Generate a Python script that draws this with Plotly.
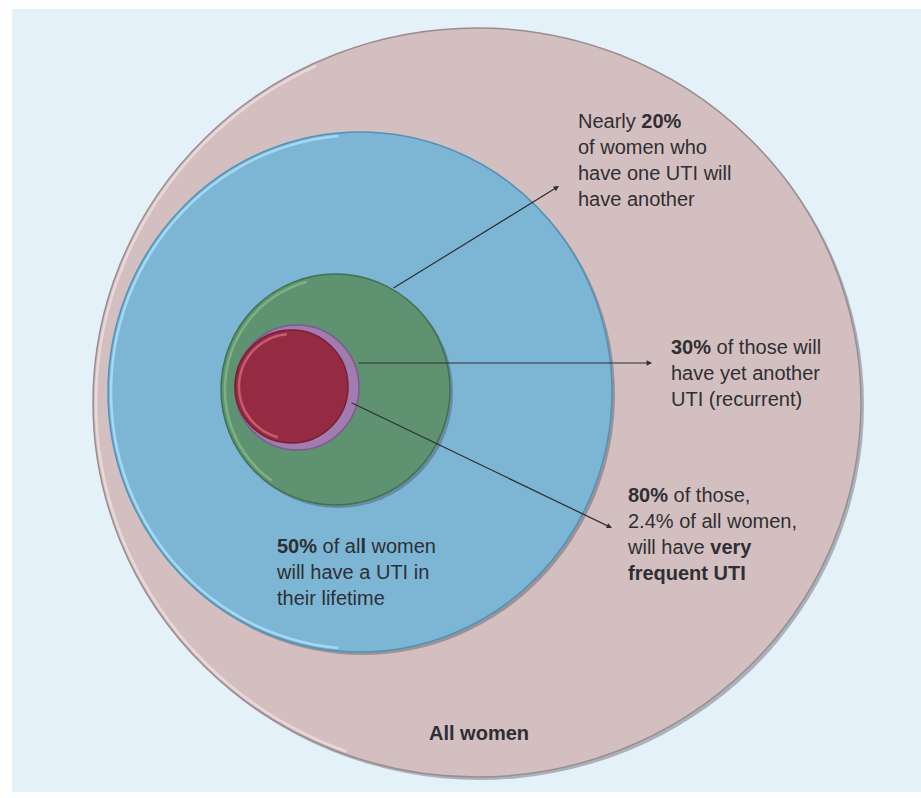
import numpy as np
import plotly.graph_objects as go

# ---- data ----
groups = ["All women", "UTI in lifetime", "Second UTI", "Recurrent UTI", "Very frequent UTI"]
share_pct = [100, 50, 20, 30, 80]          # percentages stated in the figure
share_of_all = [None, None, None, None, 2.4]

labels = [
    "<b>All women</b>",
    "<b>50%</b> of al<b>l</b> women<br>will have a UTI in<br>their lifetime",
    "Nearly <b>20%</b><br>of women who<br>have one UTI will<br>have another",
    "<b>30%</b> of those will<br>have yet another<br>UTI (recurrent)",
    "<b>80%</b> of those,<br>2.4% of all women,<br>will have <b>very<br>frequent UTI</b>",
]

# ---- geometry / style (pixel space of the 921x798 canvas) ----
W, H = 921, 798
ellipses = {  # x0, x1, y0, y1
    "All women": (93, 861, 28, 777),
    "UTI in lifetime": (108, 612, 132, 652),
    "Second UTI": (221, 450, 274, 505),
    "Recurrent UTI": (235, 359, 325, 450),
    "Very frequent UTI": (235, 348, 330, 443),
}
fills = {
    "All women": "#d3bfc0",
    "UTI in lifetime": "#7db5d5",
    "Second UTI": "#5e9270",
    "Recurrent UTI": "#a27bb0",
    "Very frequent UTI": "#952b43",
}
edges = {
    "All women": "#9b8d8f",
    "UTI in lifetime": "#4f94b8",
    "Second UTI": "#3d7350",
    "Recurrent UTI": "#7d5a8c",
    "Very frequent UTI": "#7a1f33",
}
highlights = {  # arc start, arc end (deg), inset, colour
    "All women": (115, 250, 3, "rgba(240,222,222,0.8)"),
    "UTI in lifetime": (95, 265, 3, "rgba(168,222,244,0.9)"),
    "Second UTI": (105, 235, 4, "rgba(140,190,140,0.7)"),
    "Very frequent UTI": (95, 255, 4, "rgba(214,110,125,0.75)"),
}

def arc_path(box, a0, a1, inset=0, n=60):
    x0, x1, y0, y1 = box
    cx, cy = (x0 + x1) / 2, (y0 + y1) / 2
    rx, ry = (x1 - x0) / 2 - inset, (y1 - y0) / 2 - inset
    t = np.radians(np.linspace(a0, a1, n))
    xs, ys = cx + rx * np.cos(t), cy - ry * np.sin(t)
    return "M " + " L ".join(f"{x:.1f},{y:.1f}" for x, y in zip(xs, ys))

shapes = []
# background
shapes.append(dict(type="rect", xref="x", yref="y", x0=0, x1=W, y0=0, y1=H,
                   fillcolor="#ffffff", line_width=0, layer="below"))
shapes.append(dict(type="rect", xref="x", yref="y", x0=12, x1=W, y0=9, y1=H - 6,
                   fillcolor="#e4f1f9", line_width=0, layer="below"))

for g in groups:
    x0, x1, y0, y1 = ellipses[g]
    if g in ("All women", "Second UTI", "UTI in lifetime"):
        shapes.append(dict(type="circle", xref="x", yref="y", x0=x0 + 2, x1=x1 + 3,
                           y0=y0 + 2, y1=y1 + 3, fillcolor="rgba(60,60,70,0.35)",
                           line_width=0, layer="below"))
    shapes.append(dict(type="circle", xref="x", yref="y", x0=x0, x1=x1, y0=y0, y1=y1,
                       fillcolor=fills[g], line=dict(color=edges[g], width=1.5),
                       layer="below"))
    if g in highlights:
        a0, a1, ins, col = highlights[g]
        shapes.append(dict(type="path", xref="x", yref="y",
                           path=arc_path(ellipses[g], a0, a1, inset=ins),
                           line=dict(color=col, width=2.5), layer="below"))

FONT = "Liberation Sans, Arial, sans-serif"
annotations = []
arrows = [((392, 289), (559, 186)),
          ((357, 363), (652, 363)),
          ((350, 402), (612, 528))]
for (sx, sy), (ex, ey) in arrows:
    annotations.append(dict(x=ex, y=ey, ax=sx, ay=sy, xref="x", yref="y", axref="x", ayref="y",
                            text="", showarrow=True, arrowhead=2, arrowsize=0.9,
                            arrowwidth=1.2, arrowcolor="#2e2e33", standoff=0, startstandoff=0))

text_pos = {  # x, y, xanchor
    "All women": (479, 733, "center"),
    "UTI in lifetime": (274, 533, "left"),
    "Second UTI": (576, 108, "left"),
    "Recurrent UTI": (669, 334, "left"),
    "Very frequent UTI": (625, 482, "left"),
}
for g, lab in zip(groups, labels):
    x, y, xa = text_pos[g]
    annotations.append(dict(x=x, y=y, xref="x", yref="y", text=lab, showarrow=False,
                            xanchor=xa, yanchor="top" if g != "All women" else "middle",
                            align="left", font=dict(family=FONT, size=20, color="#2f2f33")))

fig = go.Figure()
fig.add_trace(go.Scatter(x=[0, W], y=[0, H], mode="markers", marker=dict(opacity=0),
                         hoverinfo="skip", showlegend=False))
fig.update_layout(
    width=W, height=H, margin=dict(l=0, r=0, t=0, b=0),
    paper_bgcolor="#ffffff", plot_bgcolor="#ffffff",
    xaxis=dict(range=[0, W], visible=False, fixedrange=True),
    yaxis=dict(range=[H, 0], visible=False, fixedrange=True),
    shapes=shapes, annotations=annotations, showlegend=False,
)
fig.write_html("out.html")
